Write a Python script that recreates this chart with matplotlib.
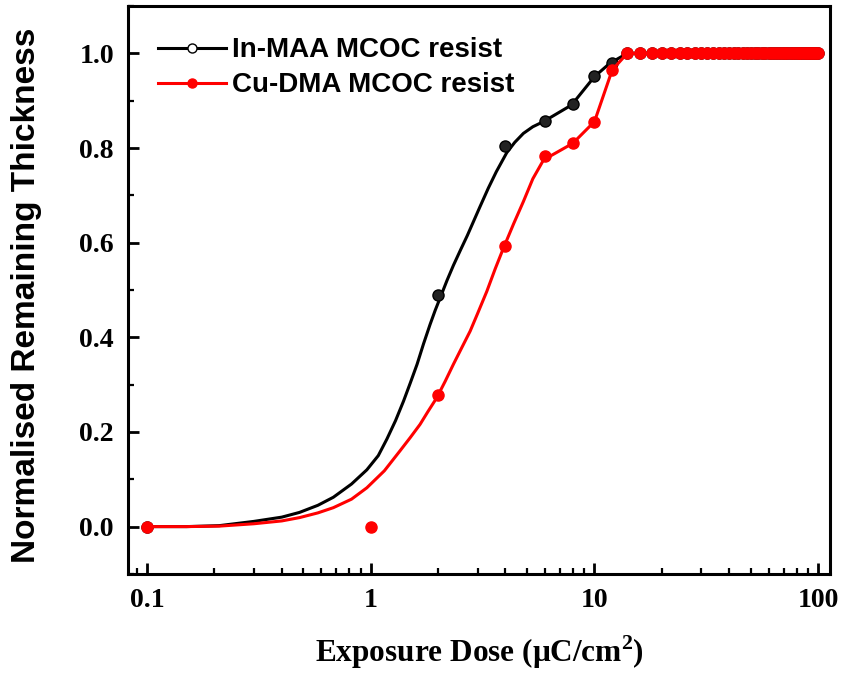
import matplotlib
matplotlib.use("Agg")
import matplotlib.pyplot as plt
from matplotlib.lines import Line2D
from matplotlib.ticker import MultipleLocator, LogLocator, FixedLocator

# measured data points
dose_in = [0.1, 2, 4, 6, 8, 10, 12] + list(range(14, 101, 2))
thick_in = [0.0, 0.49, 0.805, 0.857, 0.893, 0.952, 0.979] + [1.0] * len(range(14, 101, 2))

dose_cu = [0.1, 1, 2, 4, 6, 8, 10, 12] + list(range(14, 101, 2))
thick_cu = [0.0, 0.0, 0.279, 0.594, 0.783, 0.81, 0.856, 0.965] + [1.0] * len(range(14, 101, 2))

# drawn curves (fit + connecting lines)
curve_in_x = [0.1, 0.15, 0.21, 0.3, 0.4, 0.48, 0.58, 0.68, 0.82, 0.96, 1.08, 1.18, 1.29,
              1.40, 1.5, 1.61, 1.72, 1.84, 1.94, 2.04, 2.19, 2.34, 2.52, 2.7, 3.07, 3.35,
              3.64, 4.05, 4.4, 4.81, 5.3, 5.92, 7.9, 10, 11.7, 14, 100]
curve_in_y = [0.0, 0.0, 0.002, 0.011, 0.02, 0.030, 0.045, 0.062, 0.09, 0.12, 0.15, 0.185, 0.224,
              0.265, 0.303, 0.343, 0.386, 0.427, 0.457, 0.483, 0.52, 0.552, 0.585, 0.615, 0.675, 0.715,
              0.75, 0.79, 0.812, 0.831, 0.845, 0.856, 0.891, 0.951, 0.979, 1.0, 1.0]

curve_cu_x = [0.1, 0.15, 0.21, 0.3, 0.4, 0.48, 0.58, 0.68, 0.82, 0.96, 1.15, 1.35, 1.5,
              1.66, 1.8, 1.97, 2.15, 2.34, 2.55, 2.78, 3.0, 3.3, 3.6, 3.92, 4.35, 4.81, 5.3,
              5.92, 8, 10, 12, 14, 100]
curve_cu_y = [0.0, 0.0, 0.001, 0.006, 0.012, 0.019, 0.029, 0.040, 0.058, 0.082, 0.118, 0.160, 0.188,
              0.216, 0.243, 0.272, 0.307, 0.343, 0.378, 0.413, 0.45, 0.497, 0.545, 0.589, 0.64, 0.687, 0.735,
              0.775, 0.81, 0.856, 0.965, 1.0, 1.0]

labels = ["In-MAA MCOC resist", "Cu-DMA MCOC resist"]
RED = "#ff0000"

plt.rcParams["mathtext.fontset"] = "custom"
plt.rcParams["mathtext.rm"] = "Liberation Serif:bold"
plt.rcParams["mathtext.bf"] = "Liberation Serif:bold"

fig = plt.figure(figsize=(8.41, 6.76), dpi=100)
ax = fig.add_axes([0.152, 0.151, 0.835, 0.840])

ax.plot(curve_in_x, curve_in_y, color="black", lw=2.2, zorder=2)
ax.plot(dose_in, thick_in, "o", ms=8, color="#222222", mec="black", zorder=3)
ax.plot(curve_cu_x, curve_cu_y, color=RED, lw=2.2, zorder=4)
ax.plot(dose_cu, thick_cu, "o", ms=8, color=RED, mec=RED, zorder=5)

ax.set_xscale("log")
ax.set_xlim(0.082, 113)
ax.set_ylim(-0.1, 1.1)
ax.xaxis.set_major_locator(FixedLocator([0.1, 1, 10, 100]))
ax.xaxis.set_minor_locator(LogLocator(base=10, subs=range(2, 10)))
ax.set_xticklabels(["0.1", "1", "10", "100"])
ax.yaxis.set_major_locator(FixedLocator([0.0, 0.2, 0.4, 0.6, 0.8, 1.0]))
ax.yaxis.set_minor_locator(MultipleLocator(0.1))

for s in ax.spines.values():
    s.set_linewidth(2.2)
ax.tick_params(which="major", direction="in", length=8, width=2, pad=10)
ax.tick_params(which="minor", direction="in", length=4.5, width=1.6)
ax.tick_params(top=False, right=False, which="both")

for t in ax.get_xticklabels() + ax.get_yticklabels():
    t.set_fontfamily("Liberation Serif")
    t.set_fontweight("bold")
    t.set_fontsize(20)

ax.set_xlabel("Exposure Dose (μC/cm$^{\\mathbf{2}}$)", family="Liberation Serif",
              fontweight="bold", fontsize=22.5, va="baseline")
ax.xaxis.set_label_coords(0.501, -0.155)
ax.set_ylabel("Normalised Remaining Thickness", family="Liberation Sans",
              fontweight="bold", fontsize=24)
ax.yaxis.set_label_coords(-0.122, 0.49)

handles = [
    Line2D([], [], color="black", lw=2.2, marker="o", ms=6.5, mfc="white", mec="black"),
    Line2D([], [], color=RED, lw=2.2, marker="o", ms=6.5, mfc=RED, mec=RED),
]
ax.legend(handles, labels, loc="upper left", bbox_to_anchor=(0.043, 0.945), frameon=False,
          borderpad=0, borderaxespad=0,
          prop={"family": "Liberation Sans", "weight": "bold", "size": 20},
          handlelength=2.45, handletextpad=0.2, labelspacing=0.33)

fig.savefig("out.png", dpi=100)
